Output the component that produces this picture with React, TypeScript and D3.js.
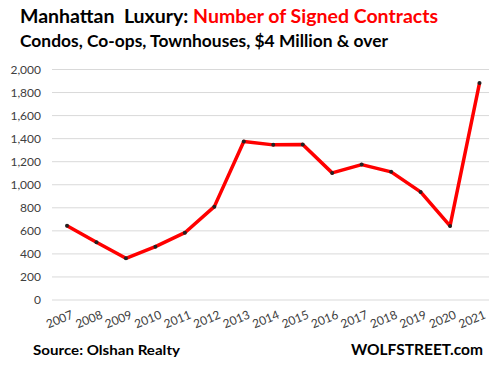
import React from "react";
import * as d3 from "d3";

const years = ["2007","2008","2009","2010","2011","2012","2013","2014","2015","2016","2017","2018","2019","2020","2021"];
const contracts = [645, 501, 362, 463, 584, 810, 1375, 1346, 1349, 1103, 1175, 1112, 938, 643, 1882];
const yTicks = [0, 200, 400, 600, 800, 1000, 1200, 1400, 1600, 1800, 2000];

const W = 489, H = 367;
const font = "Lato, 'Open Sans', sans-serif";

export default function App() {
  const x = d3.scalePoint<string>().domain(years).range([67, 479.5]);
  const y = d3.scaleLinear().domain([0, 2000]).range([300, 69.5]);
  const line = d3.line<number>().x((_, i) => x(years[i])!).y((d) => y(d));
  const fmt = d3.format(",");
  return (
    <svg width={W} height={H} style={{ position: "absolute", left: 0, top: 0, background: "#fff" }}>
      <text x={20} y={23} fontFamily={font} fontWeight="bold" fontSize={19.5} textLength={418} lengthAdjust="spacingAndGlyphs" style={{ whiteSpace: "pre" }}>
        <tspan fill="#000">{"Manhattan  Luxury: "}</tspan>
        <tspan fill="#ff0000">Number of Signed Contracts</tspan>
      </text>
      <text x={20} y={47} fontFamily={font} fontWeight="bold" fontSize={17} fill="#000" textLength={368} lengthAdjust="spacingAndGlyphs">
        Condos, Co-ops, Townhouses, $4 Million &amp; over
      </text>
      {yTicks.map((t) => (
        <g key={t}>
          <line x1={52} x2={489} y1={y(t)} y2={y(t)} stroke="#d9d9d9" strokeWidth={1} />
          <text x={41} y={y(t) + 4} textAnchor="end" fontFamily={font} fontSize={12} fill="#404040">
            {fmt(t)}
          </text>
        </g>
      ))}
      <path d={line(contracts)!} fill="none" stroke="#ff0000" strokeWidth={3.5} strokeLinejoin="round" />
      {contracts.map((v, i) => (
        <circle key={i} cx={x(years[i])} cy={y(v)} r={2} fill="#222" />
      ))}
      {years.map((yr) => (
        <text key={yr} transform={`translate(${x(yr)! + 7},${318}) rotate(-22)`} textAnchor="end" fontFamily={font} fontSize={12} fill="#404040">
          {yr}
        </text>
      ))}
      <text x={33} y={355} fontFamily={font} fontWeight="bold" fontSize={14} fill="#000" textLength={147} lengthAdjust="spacingAndGlyphs">
        Source: Olshan Realty
      </text>
      <text x={351} y={355} fontFamily={font} fontWeight="bold" fontSize={15.5} fill="#000" textLength={132} lengthAdjust="spacingAndGlyphs">
        WOLFSTREET.com
      </text>
    </svg>
  );
}
